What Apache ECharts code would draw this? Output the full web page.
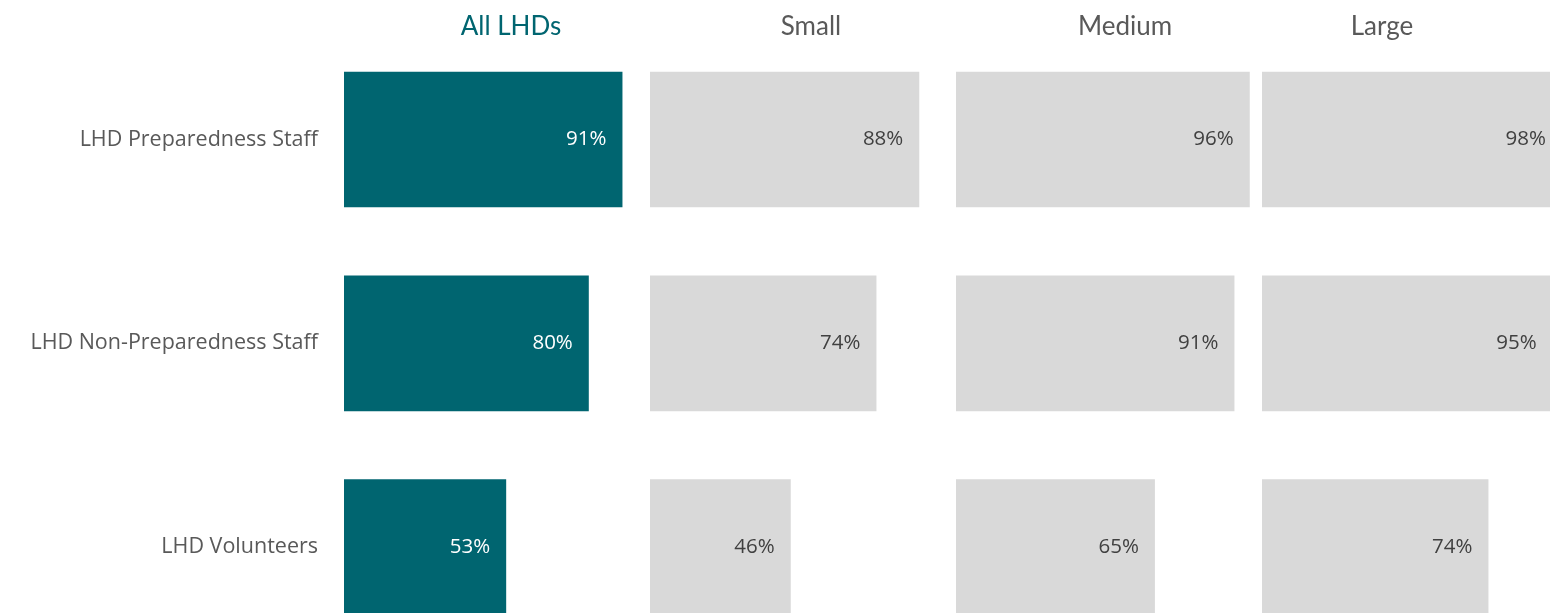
<!DOCTYPE html>
<html>
<head>
<meta charset="utf-8">
<script src="https://cdn.jsdelivr.net/npm/echarts@6/dist/echarts.min.js"></script>
<style>
  html, body { margin: 0; padding: 0; background: #ffffff; }
  #chart { width: 1550px; height: 613px; }
</style>
</head>
<body>
<div id="chart"></div>
<script>
// Staff groups shown as rows
const categories = ['LHD Preparedness Staff', 'LHD Non-Preparedness Staff', 'LHD Volunteers'];
// Panel headings (all LHDs, then by jurisdiction size)
const panels = ['All LHDs', 'Small', 'Medium', 'Large'];
// Share of each group, per panel (fractions)
const allLHDs = [0.91, 0.80, 0.53];
const small   = [0.88, 0.74, 0.46];
const medium  = [0.96, 0.91, 0.65];
const large   = [0.98, 0.95, 0.74];
const panelValues = [allLHDs, small, medium, large];

const TEAL = '#006570';
const GREY = '#D9D9D9';

const panelLeft = 344;
const panelWidth = 306;
const titleCenters = [506, 806, 1120, 1377];

const grids = [], xAxes = [], yAxes = [], series = [], titles = [];

panels.forEach((name, i) => {
  const highlight = i === 0;
  grids.push({
    left: panelLeft + i * panelWidth,
    width: panelWidth,
    top: 37.6,
    height: 611.4,
    containLabel: false,
    outerBoundsMode: 'none'
  });
  xAxes.push({
    gridIndex: i, type: 'value', min: 0, max: 1,
    show: false
  });
  yAxes.push({
    gridIndex: i, type: 'category', data: categories, inverse: true,
    axisLine: { show: false }, axisTick: { show: false }, splitLine: { show: false },
    axisLabel: {
      show: i === 0,
      margin: 26,
      fontFamily: 'Open Sans',
      fontSize: 21.5,
      color: '#595959'
    }
  });
  series.push({
    type: 'bar',
    xAxisIndex: i, yAxisIndex: i,
    data: panelValues[i],
    barCategoryGap: '33.4%',
    itemStyle: { color: highlight ? TEAL : GREY },
    silent: true,
    animation: false,
    label: {
      show: true,
      position: 'insideRight',
      distance: 16,
      formatter: p => Math.round(p.value * 100) + '%',
      fontFamily: 'Open Sans',
      fontSize: 20.5,
      color: highlight ? '#ffffff' : '#404040'
    }
  });
  titles.push({
    text: name,
    left: titleCenters[i],
    top: 9,
    textAlign: 'center',
    textStyle: {
      fontFamily: 'Lato',
      fontWeight: 'normal',
      fontSize: 26,
      color: highlight ? TEAL : '#595959'
    }
  });
});

const chart = echarts.init(document.getElementById('chart'), null, { renderer: 'canvas' });
chart.setOption({
  animation: false,
  title: titles,
  grid: grids,
  xAxis: xAxes,
  yAxis: yAxes,
  series: series
});
</script>
</body>
</html>
